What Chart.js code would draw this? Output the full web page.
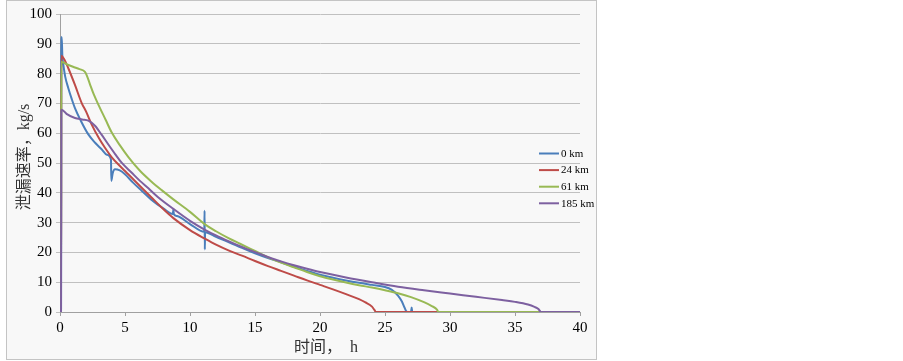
<!DOCTYPE html>
<html>
<head>
<meta charset="utf-8">
<script src="https://cdn.jsdelivr.net/npm/chart.js@4.4.1/dist/chart.umd.min.js"></script>
<style>
  body { margin: 0; background: #fff; }
  #box {
    position: absolute; left: 6px; top: 0px;
    width: 589px; height: 358px;
    border: 1px solid #c4c4c4; background: #f8f8f8;
  }
</style>
</head>
<body>
<div id="box"><canvas id="leakChart" width="589" height="358"></canvas></div>
<script>
// series labels
const seriesNames = ['0 km', '24 km', '61 km', '185 km'];
const seriesColors = ['#4a7ebb', '#be4b48', '#98b954', '#7d60a0'];

// 0 km
const t0 = [0, 0.08, 0.1, 0.13, 0.18, 0.26, 0.4, 0.64, 0.9, 1.15, 1.6, 2.18, 2.7, 3.2, 3.6, 3.92, 3.95, 4.05, 4.23, 4.6, 5, 5.6, 6.28, 7, 8, 8.68, 8.72, 8.76, 9, 10, 11.1, 11.12, 11.14, 11.16, 12, 13, 14, 15, 16, 17, 18, 19, 20, 21, 22, 23, 24, 25, 25.5, 26, 26.3, 26.5, 26.7, 27.0, 27.05, 27.1, 40];
const v0 = [0, 0, 88, 92.3, 86, 82.9, 79, 75.1, 71.5, 68.4, 64.2, 59.6, 56.8, 54.6, 52.8, 51.2, 44, 46.5, 47.9, 47.5, 46.2, 43.5, 40.7, 37.8, 34.6, 32.9, 34.4, 32.8, 32.2, 29.5, 26.9, 34, 21, 26.8, 25.2, 23.4, 21.5, 19.7, 18.1, 16.7, 15.2, 13.8, 12.5, 11.5, 10.6, 9.8, 9.1, 8.4, 7.5, 5.5, 3.5, 1.5, 0, 0, 1.5, 0, 0];

// 24 km
const t24 = [0, 0.08, 0.1, 0.3, 0.64, 1.15, 1.67, 2, 2.44, 3, 3.46, 4, 4.74, 5, 6.15, 7, 8, 8.72, 10, 11.15, 12, 13, 14, 15, 16, 17, 18, 19, 20, 21, 22, 23, 23.5, 24, 24.2, 24.3, 40];
const v24 = [0, 0, 86, 85, 81.8, 76.2, 70.1, 67.3, 62.9, 58.3, 55.1, 51.8, 48.4, 47.3, 42.3, 38.6, 34.3, 31.5, 27.5, 24.6, 22.6, 20.6, 18.9, 17.1, 15.4, 13.8, 12.2, 10.6, 9.1, 7.6, 6, 4.3, 3.2, 1.8, 0.6, 0, 0];

// 61 km
const t61 = [0, 0.08, 0.1, 0.5, 1, 1.5, 1.92, 2.05, 2.3, 2.6, 2.95, 3.5, 3.97, 4.6, 5.26, 6.15, 7, 7.82, 8.72, 10, 11.15, 12, 13, 13.85, 15, 16.15, 17, 18, 19, 20, 21, 22, 23, 24, 25, 26, 27, 28, 28.6, 29, 29.1, 40];
const v61 = [0, 0, 84, 83.2, 82.3, 81.5, 80.6, 79.5, 76.5, 73, 69.6, 64.6, 60.3, 56, 52, 47.4, 43.9, 40.9, 37.8, 33.6, 29.4, 27.1, 24.7, 22.9, 20.5, 18.1, 16.6, 15, 13.4, 12, 10.9, 9.9, 9, 8.2, 7.3, 6.3, 5, 3.3, 2, 0.8, 0, 0];

// 185 km
const t185 = [0, 0.08, 0.1, 0.13, 0.5, 1.15, 1.7, 2.18, 2.69, 3.2, 3.72, 4.24, 4.74, 5.5, 6.15, 6.8, 7.5, 8.72, 10, 11.15, 12, 13, 13.85, 15, 16.15, 17, 18, 19, 20, 22, 24, 26, 28, 30, 32, 34, 35, 36, 36.5, 36.8, 37, 40];
const v185 = [0, 0, 67.5, 67.9, 66.5, 65.1, 64.6, 64.2, 62.5, 59.5, 56.2, 53, 50.1, 46.8, 44, 41.5, 38.7, 34.6, 30.6, 27.6, 25.7, 23.7, 22.1, 20.1, 18.2, 17, 15.7, 14.5, 13.4, 11.6, 10, 8.5, 7.3, 6.2, 5.1, 4, 3.4, 2.5, 1.7, 1, 0, 0];

// axis ticks
const xTicks = [0, 5, 10, 15, 20, 25, 30, 35, 40];
const yTicks = [0, 10, 20, 30, 40, 50, 60, 70, 80, 90, 100];

const xTitle = '时间，  h';
const yTitle = '泄漏速率，kg/s';

const serif = '"Liberation Serif", "DejaVu Serif", serif';
const cjk = '"Liberation Serif", "Noto Sans CJK SC", serif';

const times = [t0, t24, t61, t185];
const values = [v0, v24, v61, v185];

const datasets = seriesNames.map((name, i) => ({
    label: name,
    data: times[i].map((t, k) => ({ x: t, y: values[i][k] })),
    borderColor: seriesColors[i],
    backgroundColor: seriesColors[i],
    borderWidth: 2,
    pointRadius: 0,
    cubicInterpolationMode: 'monotone',
    fill: false,
    order: seriesNames.length - i
}));

// legend + axis titles drawn on the canvas
const extrasPlugin = {
    id: 'extras',
    afterDraw(chart) {
        const ctx = chart.ctx;
        ctx.save();
        // legend
        ctx.font = '11px ' + serif;
        ctx.textBaseline = 'middle';
        ctx.textAlign = 'left';
        seriesNames.forEach((name, i) => {
            const y = 152.5 + i * 16.6;
            ctx.strokeStyle = seriesColors[i];
            ctx.lineWidth = 2;
            ctx.beginPath();
            ctx.moveTo(532, y);
            ctx.lineTo(552, y);
            ctx.stroke();
            ctx.fillStyle = '#000';
            ctx.fillText(name, 554, y + 0.5);
        });
        // x title
        ctx.font = '16px ' + cjk;
        ctx.fillStyle = '#333';
        ctx.textAlign = 'center';
        ctx.fillText(xTitle, 319, 347);
        // y title
        ctx.translate(18, 156);
        ctx.rotate(-Math.PI / 2);
        ctx.fillText(yTitle, 0, 0);
        ctx.restore();
    }
};

new Chart(document.getElementById('leakChart'), {
    type: 'line',
    data: { datasets: datasets },
    options: {
        responsive: false,
        animation: false,
        layout: { padding: { top: 11, right: 16, left: 0, bottom: 0 } },
        plugins: {
            legend: { display: false },
            tooltip: { enabled: false }
        },
        scales: {
            x: {
                type: 'linear',
                min: 0,
                max: 40,
                afterFit(scale) { scale.height = 47; },
                afterBuildTicks(scale) { scale.ticks = xTicks.map(v => ({ value: v })); },
                grid: { display: true, drawOnChartArea: false, tickLength: 4, color: '#a0a0a0' },
                border: { color: '#a0a0a0' },
                ticks: {
                    color: '#000',
                    padding: 3,
                    maxRotation: 0,
                    font: { family: serif, size: 15 }
                }
            },
            y: {
                min: 0,
                max: 100,
                afterFit(scale) { scale.width = 53; },
                afterBuildTicks(scale) { scale.ticks = yTicks.map(v => ({ value: v })); },
                grid: { color: '#c0c0c0', tickLength: 4 },
                border: { color: '#a0a0a0' },
                ticks: {
                    color: '#000',
                    padding: 4,
                    font: { family: serif, size: 15 }
                }
            }
        }
    },
    plugins: [extrasPlugin]
});
</script>
</body>
</html>
